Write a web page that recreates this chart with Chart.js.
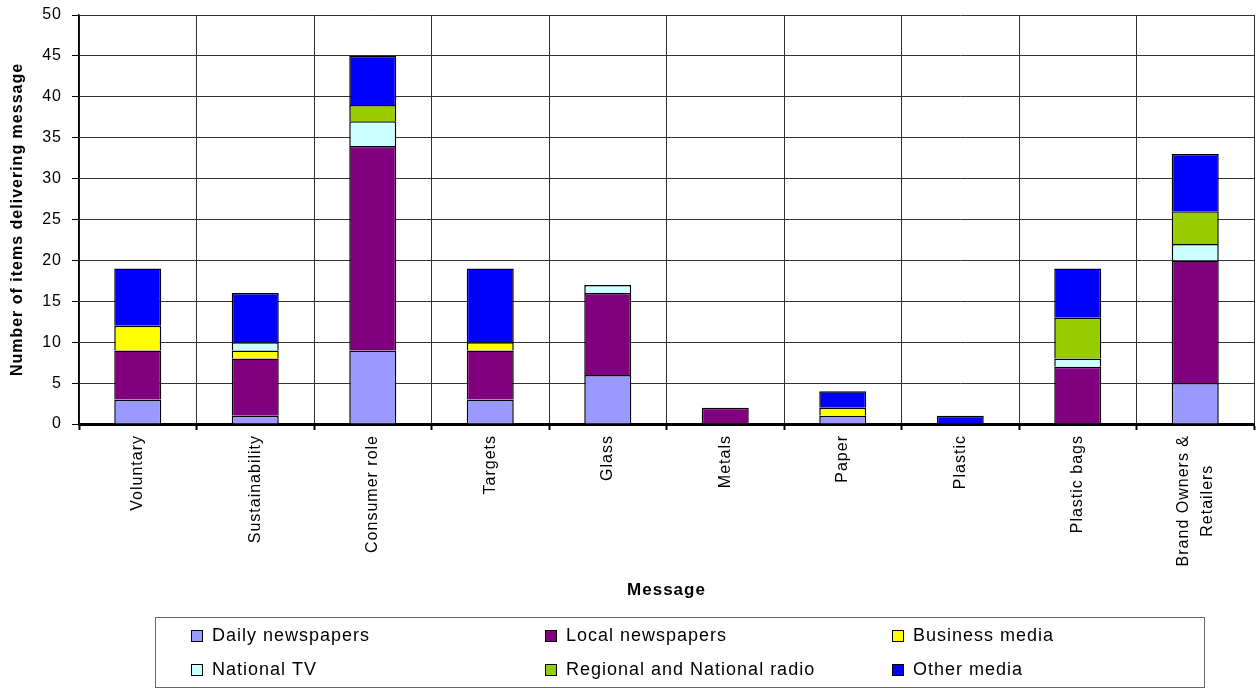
<!DOCTYPE html>
<html>
<head>
<meta charset="utf-8">
<title>Number of items delivering message</title>
<script src="https://cdn.jsdelivr.net/npm/chart.js@4.4.1/dist/chart.umd.min.js"></script>
<style>
  html, body { margin: 0; padding: 0; background: #fff; }
  #wrap { width: 1257px; height: 689px; position: relative; }
</style>
</head>
<body>
<div id="wrap"><canvas id="mediaChart"></canvas></div>
<script>
const messages = ['Voluntary', 'Sustainability', 'Consumer role', 'Targets', 'Glass', 'Metals', 'Paper', 'Plastic', 'Plastic bags', ['Brand Owners &', 'Retailers']];

const dailyNewspapers = [3, 1, 9, 3, 6, 0, 1, 0, 0, 5];
const localNewspapers = [6, 7, 25, 6, 10, 2, 0, 0, 7, 15];
const businessMedia   = [3, 1, 0, 1, 0, 0, 1, 0, 0, 0];
const nationalTV      = [0, 1, 3, 0, 1, 0, 0, 0, 1, 2];
const radio           = [0, 0, 2, 0, 0, 0, 0, 0, 5, 4];
const otherMedia      = [7, 6, 6, 9, 0, 0, 2, 1, 6, 7];

const seriesNames = ['Daily newspapers', 'Local newspapers', 'Business media', 'National TV', 'Regional and National radio', 'Other media'];
const seriesColors = ['#9999ff', '#800080', '#ffff00', '#ccffff', '#99cc00', '#0000ff'];
const seriesData = [dailyNewspapers, localNewspapers, businessMedia, nationalTV, radio, otherMedia];

const FONT = '"Liberation Sans", Arial, sans-serif';
Chart.defaults.font.family = FONT;
Chart.defaults.color = '#000';

// text in the original is a bit spaced out
const spacingPlugin = {
  id: 'spacing',
  beforeDraw(chart) {
    chart.ctx.letterSpacing = '1px';
  }
};

// rotated category labels, multi-line ones centred on each other
const xLabelPlugin = {
  id: 'xLabels',
  afterDraw(chart) {
    const ctx = chart.ctx;
    const xs = chart.scales.x;
    ctx.save();
    ctx.font = '16px ' + FONT;
    ctx.fillStyle = '#000';
    ctx.textAlign = 'center';
    ctx.textBaseline = 'middle';
    chart.data.labels.forEach((lab, i) => {
      const lines = Array.isArray(lab) ? lab : [lab];
      const w = Math.max(...lines.map(l => ctx.measureText(l).width));
      ctx.save();
      ctx.translate(xs.getPixelForTick(i), xs.top + 11);
      ctx.rotate(-Math.PI / 2);
      lines.forEach((l, j) => {
        ctx.fillText(l, -w / 2, (j - (lines.length - 1) / 2) * 24);
      });
      ctx.restore();
    });
    ctx.restore();
  }
};

// boxed legend, 3 columns x 2 rows
const boxLegendPlugin = {
  id: 'boxLegend',
  afterDraw(chart) {
    const ctx = chart.ctx;
    const colX = [191, 545, 892];
    const rowY = [636, 670];
    ctx.save();
    ctx.strokeStyle = '#666';
    ctx.lineWidth = 1;
    ctx.strokeRect(155.5, 617.5, 1049, 70);
    ctx.font = '18px ' + FONT;
    ctx.textBaseline = 'middle';
    ctx.textAlign = 'left';
    chart.data.datasets.forEach((ds, i) => {
      const x = colX[i % 3];
      const y = rowY[Math.floor(i / 3)];
      ctx.fillStyle = ds.backgroundColor;
      ctx.fillRect(x, y - 6, 12, 12);
      ctx.strokeStyle = '#000';
      ctx.strokeRect(x + 0.5, y - 5.5, 11, 11);
      ctx.fillStyle = '#000';
      ctx.fillText(ds.label, x + 21, y);
    });
    ctx.restore();
  }
};

const datasets = seriesNames.map((name, i) => ({
  label: name,
  data: seriesData[i],
  backgroundColor: seriesColors[i],
  borderColor: '#000',
  // no outline for empty segments
  borderWidth: c => (c.raw ? 1.5 : 0),
  borderSkipped: 'start',
  categoryPercentage: 1,
  barPercentage: 0.4
}));

new Chart(document.getElementById('mediaChart'), {
  type: 'bar',
  data: { labels: messages, datasets: datasets },
  options: {
    responsive: true,
    maintainAspectRatio: false,
    animation: false,
    layout: { padding: { left: 0, top: 15, right: 3, bottom: 85 } },
    plugins: {
      legend: { display: false },
      tooltip: { enabled: false }
    },
    scales: {
      x: {
        stacked: true,
        grid: {
          offset: true,
          color: '#333',
          lineWidth: 1,
          drawTicks: true,
          tickLength: 6,
          tickColor: '#000',
          tickWidth: 2
        },
        border: { color: '#000', width: 3 },
        ticks: { display: false },
        title: {
          display: true,
          text: 'Message',
          font: { size: 17, weight: 'bold' },
          padding: { top: 0, bottom: 3 }
        },
        afterFit(scale) { scale.height = 180; }
      },
      y: {
        stacked: true,
        min: 0,
        max: 50,
        ticks: { stepSize: 5, padding: 10, font: { size: 16 } },
        grid: {
          color: '#333',
          lineWidth: 1,
          tickLength: 7,
          tickColor: '#000'
        },
        border: { color: '#000', width: 1.5 },
        title: {
          display: true,
          text: 'Number of items delivering message',
          font: { size: 16, weight: 'bold' },
          padding: { top: 8, bottom: 0 }
        },
        afterFit(scale) {
          scale.width = 79;
          scale.paddingTop = 0;
          scale.paddingBottom = 0;
        }
      }
    }
  },
  plugins: [spacingPlugin, xLabelPlugin, boxLegendPlugin]
});
</script>
</body>
</html>
